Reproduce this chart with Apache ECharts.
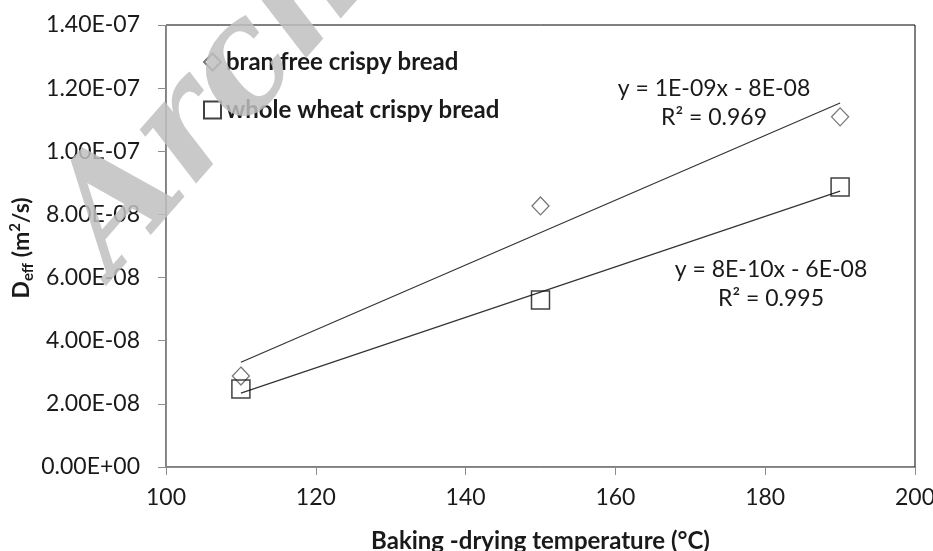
<!DOCTYPE html>
<html>
<head>
<meta charset="utf-8">
<script src="https://cdn.jsdelivr.net/npm/echarts@6/dist/echarts.min.js"></script>
<style>
  html, body { margin: 0; padding: 0; background: #fff; }
  #deff { width: 933px; height: 551px; }
</style>
</head>
<body>
<div id="deff"></div>
<script>
// measured points (temperature in °C, Deff in m2/s)
var temps = [110, 150, 190];
var branFree = [2.88e-8, 8.27e-8, 1.109e-7];
var wholeWheat = [2.47e-8, 5.29e-8, 8.87e-8];
// trendline ends
var trendX = [110, 190];
var branTrend = [3.32e-8, 1.153e-7];
var wheatTrend = [2.34e-8, 8.74e-8];
var yTickLabels = ["0.00E+00", "2.00E-08", "4.00E-08", "6.00E-08", "8.00E-08", "1.00E-07", "1.20E-07", "1.40E-07"];
var seriesNames = ["bran free crispy bread", "whole wheat crispy bread"];
var eqBran = ["y = 1E-09x - 8E-08", "R² = 0.969"];
var eqWheat = ["y = 8E-10x - 6E-08", "R² = 0.995"];

var font = "Lato, 'Open Sans', sans-serif";
var txt = "#1a1a1a";

function pairs(xs, ys) {
  var out = [];
  for (var i = 0; i < xs.length; i++) out.push([xs[i], ys[i]]);
  return out;
}

function label(x, y, s) {
  return {
    type: "text", x: x, y: y,
    style: { text: s, font: "23px " + font, fill: txt, textAlign: "center", textVerticalAlign: "middle" }
  };
}

var myChart = echarts.init(document.getElementById("deff"));

var option = {
  animation: false,
  backgroundColor: "#fff",
  textStyle: { fontFamily: font },
  grid: {
    left: 166, right: 18, top: 25, bottom: 84,
    containLabel: false, outerBoundsMode: "none",
    show: true, borderColor: "#000", borderWidth: 1
  },
  legend: {
    data: seriesNames,
    orient: "vertical",
    left: 198, top: 45,
    itemWidth: 17, itemHeight: 17,
    itemGap: 24,
    textStyle: { fontFamily: font, fontSize: 24, lineHeight: 24, fontWeight: "bold", color: txt }
  },
  xAxis: {
    type: "value",
    min: 100, max: 200, interval: 20,
    name: "Baking -drying temperature (°C)",
    nameLocation: "middle",
    nameGap: 62,
    nameTextStyle: { fontFamily: font, fontSize: 24, fontWeight: "bold", color: txt },
    axisLine: { lineStyle: { color: "#8c8c8c", width: 1 } },
    axisTick: { show: true, length: 8, lineStyle: { color: "#8c8c8c" } },
    axisLabel: { margin: 19, fontSize: 23, color: txt, fontFamily: font },
    splitLine: { show: false }
  },
  yAxis: {
    type: "value",
    min: 0, max: 1.4e-7, interval: 2e-8,
    axisLine: { show: true, lineStyle: { color: "#8c8c8c", width: 1 } },
    axisTick: { show: true, length: 8, lineStyle: { color: "#8c8c8c" } },
    axisLabel: {
      margin: 26, fontSize: 23, color: txt, fontFamily: font,
      formatter: function (v, i) { return yTickLabels[i]; }
    },
    splitLine: { show: false }
  },
  graphic: [
    {
      type: "text", x: 22, y: 248, rotation: Math.PI / 2,
      style: {
        text: "{d|D}{s|eff}{d| (m}{p|2}{d|/s)}",
        textAlign: "center", textVerticalAlign: "middle",
        rich: {
          d: { fontSize: 23, fontWeight: "bold", fontFamily: font, fill: txt, lineHeight: 28, verticalAlign: "middle" },
          s: { fontSize: 15, fontWeight: "bold", fontFamily: font, fill: txt, lineHeight: 28, verticalAlign: "bottom" },
          p: { fontSize: 15, fontWeight: "bold", fontFamily: font, fill: txt, lineHeight: 28, verticalAlign: "top" }
        }
      }
    },
    label(714, 89, eqBran[0]),
    label(714, 118, eqBran[1]),
    label(771, 270, eqWheat[0]),
    label(771, 299, eqWheat[1]),
    {
      type: "text", x: 28, y: 202, rotation: 0.85, z: 100,
      style: {
        text: "Archive of SID",
        font: "italic bold 150px 'DejaVu Serif', serif",
        fill: "rgba(192,192,192,0.85)",
        textAlign: "left", textVerticalAlign: "alphabetic"
      }
    }
  ],
  series: [
    {
      name: seriesNames[0],
      type: "scatter",
      symbol: "diamond",
      symbolSize: [17, 18],
      itemStyle: { color: "#fff", borderColor: "#555", borderWidth: 1.3 },
      data: pairs(temps, branFree),
      z: 3
    },
    {
      name: seriesNames[1],
      type: "scatter",
      symbol: "rect",
      symbolSize: 18,
      itemStyle: { color: "rgba(255,255,255,0)", borderColor: "#111", borderWidth: 1.5 },
      data: pairs(temps, wholeWheat),
      z: 4
    },
    {
      name: "bran trend",
      type: "line",
      symbol: "none",
      lineStyle: { color: "#333", width: 1.2 },
      data: pairs(trendX, branTrend),
      z: 2
    },
    {
      name: "wheat trend",
      type: "line",
      symbol: "none",
      lineStyle: { color: "#333", width: 1.2 },
      data: pairs(trendX, wheatTrend),
      z: 2
    }
  ]
};
myChart.setOption(option);
</script>
</body>
</html>
